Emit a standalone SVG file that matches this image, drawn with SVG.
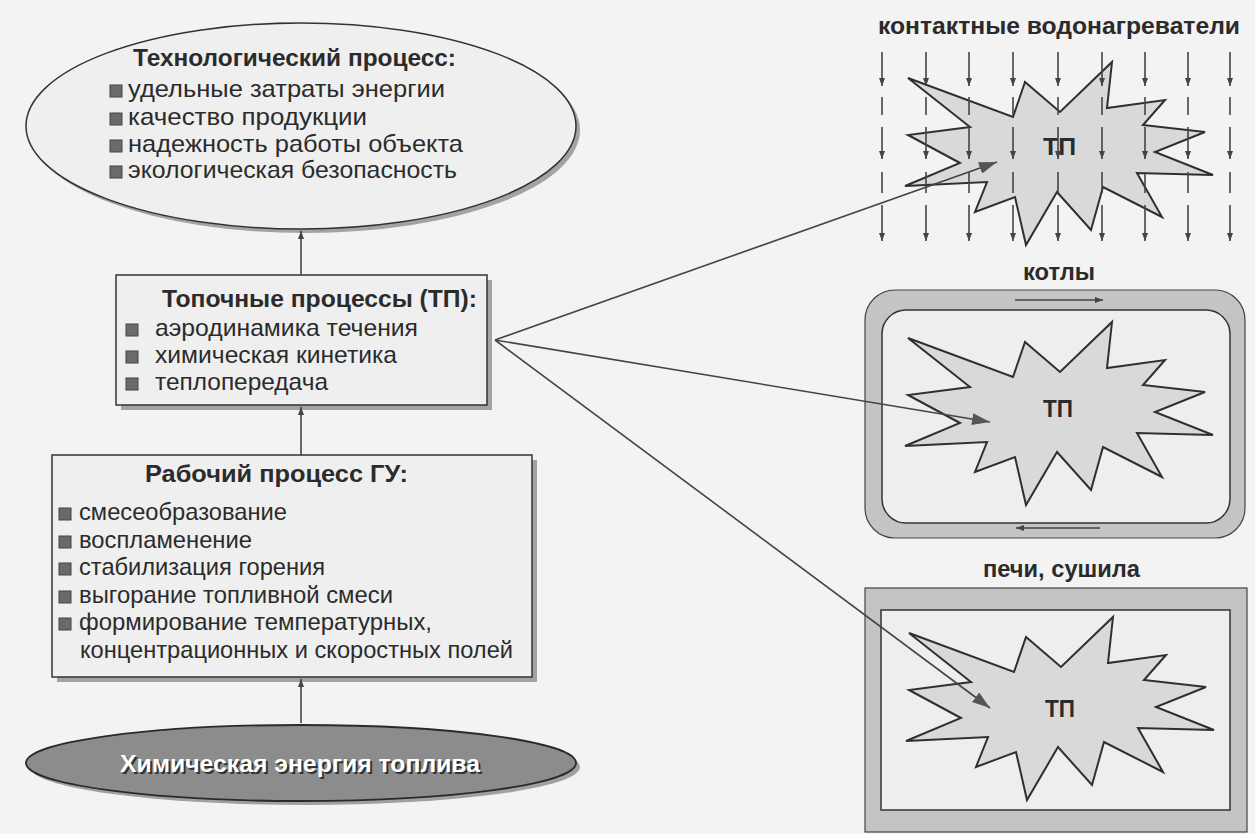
<svg xmlns="http://www.w3.org/2000/svg" width="1255" height="834" viewBox="0 0 1255 834">
<style>
.t{font-family:"Liberation Sans",Arial,sans-serif;fill:#2b2b2b;font-size:24px}
.b{font-weight:bold}
.node{fill:#efefef;stroke:#333;stroke-width:1.5}
.shadow{fill:#a3a3a3}
.bul{fill:#6a6a6a;stroke:#444;stroke-width:1}
.conn{stroke:#444;stroke-width:1.6;fill:none}
.rain{stroke:#444;stroke-width:1.6;fill:none}
.star{fill:#d9d9d9;stroke:#2f2f2f;stroke-width:2}
.band{fill:#c4c4c4;stroke:#444;stroke-width:1.2}
.inner{fill:#eeeeee;stroke:#333;stroke-width:1.5}
</style>
<defs>
<marker id="big" viewBox="0 0 18 12" refX="18" refY="6" markerWidth="18" markerHeight="12" markerUnits="userSpaceOnUse" orient="auto">
<path d="M0,0 L18,6 L0,12 z" fill="#555"/>
</marker>
<marker id="sm" viewBox="0 0 8 6" refX="8" refY="3" markerWidth="8" markerHeight="6" markerUnits="userSpaceOnUse" orient="auto">
<path d="M0,0 L8,3 L0,6 z" fill="#444"/>
</marker>
<polygon id="starshape" points="58,78 163,117 175,82 210,112 262,62 257,108 315,100 293,125 355,132 305,152 363,175 287,173 312,217 253,187 241,230 207,192 176,245 165,197 125,212 137,182 55,186 110,163 58,135 120,127"/>
<g id="rain1">
<line x1="0" y1="52" x2="0" y2="86" class="rain" marker-end="url(#sm)"/>
<line x1="0" y1="97" x2="0" y2="115" class="rain"/>
<line x1="0" y1="127" x2="0" y2="159" class="rain" marker-end="url(#sm)"/>
<line x1="0" y1="172" x2="0" y2="193" class="rain"/>
<line x1="0" y1="205" x2="0" y2="241" class="rain" marker-end="url(#sm)"/>
</g>
</defs>
<rect x="0" y="0" width="1255" height="834" fill="#f3f3f3"/>

<g id="tech-process">
<ellipse cx="305" cy="130" rx="275" ry="103" class="shadow"/>
<ellipse cx="301" cy="126" rx="275" ry="103" class="node"/>
<text class="t b" x="133" y="66" textLength="323" lengthAdjust="spacingAndGlyphs">Технологический процесс:</text>
<rect class="bul" x="110" y="85" width="12" height="12"/>
<rect class="bul" x="110" y="113" width="12" height="12"/>
<rect class="bul" x="110" y="140" width="12" height="12"/>
<rect class="bul" x="110" y="166" width="12" height="12"/>
<text class="t" x="128" y="97" textLength="317" lengthAdjust="spacingAndGlyphs">удельные затраты энергии</text>
<text class="t" x="128" y="125" textLength="239" lengthAdjust="spacingAndGlyphs">качество продукции</text>
<text class="t" x="128" y="152" textLength="335" lengthAdjust="spacingAndGlyphs">надежность работы объекта</text>
<text class="t" x="128" y="178" textLength="329" lengthAdjust="spacingAndGlyphs">экологическая безопасность</text>
</g>

<g id="furnace-processes">
<rect x="121" y="280" width="371" height="130" class="shadow"/>
<rect x="116" y="275" width="371" height="130" class="node"/>
<text class="t b" x="162" y="307" textLength="315" lengthAdjust="spacingAndGlyphs">Топочные процессы (ТП):</text>
<rect class="bul" x="126" y="324" width="12" height="12"/>
<rect class="bul" x="126" y="351" width="12" height="12"/>
<rect class="bul" x="126" y="378" width="12" height="12"/>
<text class="t" x="155" y="336" textLength="263" lengthAdjust="spacingAndGlyphs">аэродинамика течения</text>
<text class="t" x="155" y="363" textLength="242" lengthAdjust="spacingAndGlyphs">химическая кинетика</text>
<text class="t" x="155" y="390" textLength="173" lengthAdjust="spacingAndGlyphs">теплопередача</text>
</g>

<g id="working-process">
<rect x="57" y="460" width="480" height="222" class="shadow"/>
<rect x="52" y="455" width="480" height="222" class="node"/>
<text class="t b" x="145" y="482" textLength="263" lengthAdjust="spacingAndGlyphs">Рабочий процесс ГУ:</text>
<rect class="bul" x="59" y="508" width="12" height="12"/>
<rect class="bul" x="59" y="536" width="12" height="12"/>
<rect class="bul" x="59" y="563" width="12" height="12"/>
<rect class="bul" x="59" y="591" width="12" height="12"/>
<rect class="bul" x="59" y="618" width="12" height="12"/>
<text class="t" x="79" y="520" textLength="208" lengthAdjust="spacingAndGlyphs">смесеобразование</text>
<text class="t" x="79" y="548" textLength="173" lengthAdjust="spacingAndGlyphs">воспламенение</text>
<text class="t" x="79" y="575" textLength="246" lengthAdjust="spacingAndGlyphs">стабилизация горения</text>
<text class="t" x="79" y="603" textLength="314" lengthAdjust="spacingAndGlyphs">выгорание топливной смеси</text>
<text class="t" x="79" y="630" textLength="353" lengthAdjust="spacingAndGlyphs">формирование температурных,</text>
<text class="t" x="80" y="658" textLength="433" lengthAdjust="spacingAndGlyphs">концентрационных и скоростных полей</text>
</g>

<g id="chemical-energy">
<ellipse cx="305" cy="767" rx="275" ry="38" fill="#a0a0a0"/>
<ellipse cx="301" cy="763" rx="275" ry="38" fill="#8c8c8c" stroke="#2a2a2a" stroke-width="1.8"/>
<text class="t b" x="122" y="774" textLength="360" lengthAdjust="spacingAndGlyphs" style="fill:#333">Химическая энергия топлива</text>
<text class="t b" x="120" y="772" textLength="360" lengthAdjust="spacingAndGlyphs" style="fill:#ffffff">Химическая энергия топлива</text>
</g>

<g id="contact-heaters">
<text class="t b" x="878" y="34" textLength="362" lengthAdjust="spacingAndGlyphs">контактные водонагреватели</text>
<use href="#starshape" class="star" transform="translate(850,0)"/>
<text class="t b" x="1043" y="155" textLength="33" lengthAdjust="spacingAndGlyphs">ТП</text>
<use href="#rain1" transform="translate(882,0)"/>
<use href="#rain1" transform="translate(926,0)"/>
<use href="#rain1" transform="translate(969,0)"/>
<use href="#rain1" transform="translate(1013,0)"/>
<use href="#rain1" transform="translate(1058,0)"/>
<use href="#rain1" transform="translate(1102,0)"/>
<use href="#rain1" transform="translate(1145,0)"/>
<use href="#rain1" transform="translate(1188,0)"/>
<use href="#rain1" transform="translate(1230,0)"/>
</g>

<g id="boilers">
<text class="t b" x="1023" y="280" textLength="72" lengthAdjust="spacingAndGlyphs">котлы</text>
<rect x="865" y="290" width="380" height="248" rx="30" ry="30" class="band"/>
<rect x="882" y="310" width="348" height="213" rx="24" ry="24" class="inner"/>
<line x1="1015" y1="300" x2="1103" y2="300" class="conn" marker-end="url(#sm)"/>
<line x1="1100" y1="528" x2="1016" y2="528" class="conn" marker-end="url(#sm)"/>
<use href="#starshape" class="star" transform="translate(850,260)"/>
<text class="t b" x="1043" y="417" textLength="30" lengthAdjust="spacingAndGlyphs">ТП</text>
</g>

<g id="furnaces-dryers">
<text class="t b" x="983" y="577" textLength="157" lengthAdjust="spacingAndGlyphs">печи, сушила</text>
<rect x="865" y="588" width="382" height="244" class="band"/>
<rect x="881" y="610" width="349" height="200" class="inner"/>
<use href="#starshape" class="star" transform="translate(851,555)"/>
<text class="t b" x="1045" y="717" textLength="30" lengthAdjust="spacingAndGlyphs">ТП</text>
</g>

<g id="connectors">
<line x1="301" y1="723" x2="301" y2="679" class="conn" marker-end="url(#sm)"/>
<line x1="301" y1="455" x2="301" y2="407" class="conn" marker-end="url(#sm)"/>
<line x1="301" y1="275" x2="301" y2="231" class="conn" marker-end="url(#sm)"/>
<line x1="495" y1="340" x2="997" y2="162" class="conn" marker-end="url(#big)"/>
<line x1="495" y1="340" x2="990" y2="422" class="conn" marker-end="url(#big)"/>
<line x1="495" y1="340" x2="990" y2="708" class="conn" marker-end="url(#big)"/>
</g>
</svg>
